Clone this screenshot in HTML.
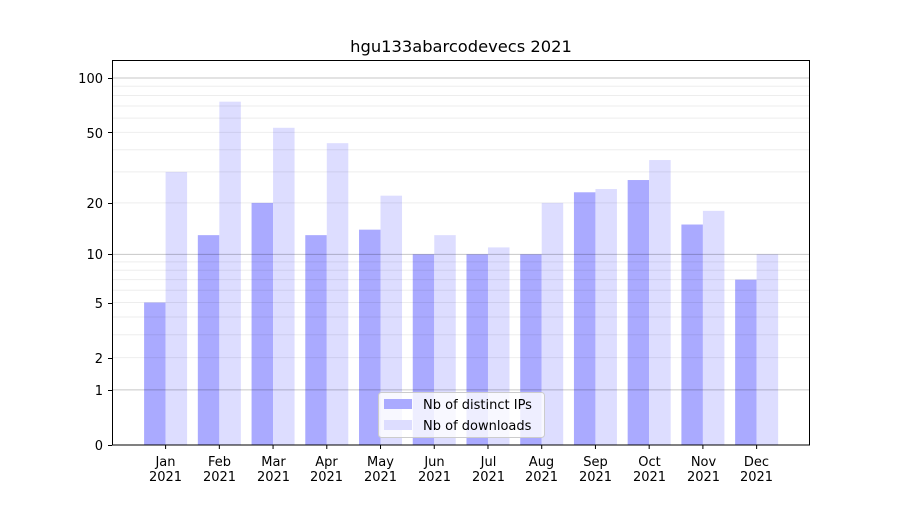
<!DOCTYPE html>
<html><head><meta charset="utf-8"><style>
body{margin:0;background:#fff;}
svg text{font-family:"DejaVu Sans","Liberation Sans",sans-serif;font-size:13px;fill:#000;}
</style></head><body>
<svg width="900" height="500" viewBox="0 0 900 500" xmlns="http://www.w3.org/2000/svg">
<rect width="900" height="500" fill="#fff"/>
<g id="bars"></g>
<g id="grid"></g>
<rect x="112.5" y="60.5" width="697" height="384.5" fill="none" stroke="#000" stroke-width="1"/>
<g id="ticks" stroke="#000" stroke-width="1"></g>
<text x="461" y="52" text-anchor="middle" style="font-size:16.3px">hgu133abarcodevecs 2021</text>
<g text-anchor="end">
<text x="103" y="83">100</text>
<text x="103" y="138">50</text>
<text x="103" y="208">20</text>
<text x="103" y="259">10</text>
<text x="103" y="308">5</text>
<text x="103" y="363">2</text>
<text x="103" y="395">1</text>
<text x="103" y="450">0</text>
</g>
<g text-anchor="middle">
<text x="165.5" y="466">Jan</text><text x="165.5" y="481">2021</text>
<text x="219.5" y="466">Feb</text><text x="219.5" y="481">2021</text>
<text x="273.5" y="466">Mar</text><text x="273.5" y="481">2021</text>
<text x="326.5" y="466">Apr</text><text x="326.5" y="481">2021</text>
<text x="380.5" y="466">May</text><text x="380.5" y="481">2021</text>
<text x="434.5" y="466">Jun</text><text x="434.5" y="481">2021</text>
<text x="488.5" y="466">Jul</text><text x="488.5" y="481">2021</text>
<text x="541.5" y="466">Aug</text><text x="541.5" y="481">2021</text>
<text x="595.5" y="466">Sep</text><text x="595.5" y="481">2021</text>
<text x="649.5" y="466">Oct</text><text x="649.5" y="481">2021</text>
<text x="703.5" y="466">Nov</text><text x="703.5" y="481">2021</text>
<text x="756.5" y="466">Dec</text><text x="756.5" y="481">2021</text>
</g>
<rect x="378.5" y="392.5" width="166" height="45" rx="3" fill="#fff" fill-opacity="0.8" stroke="#ccc"/>
<rect x="384" y="399" width="28" height="10" fill="#aaaaff"/>
<rect x="384" y="420" width="28" height="10" fill="#ddddff"/>
<text x="423" y="409">Nb of distinct IPs</text>
<text x="423" y="430">Nb of downloads</text>
</svg>
<script>
var Y=function(v){return 445-183.1*Math.log10(1+v);};
var ns="http://www.w3.org/2000/svg";
function el(p,t,a){var e=document.createElementNS(ns,t);for(var k in a)e.setAttribute(k,a[k]);document.getElementById(p).appendChild(e);}
var ip=[5,13,20,13,14,10,10,10,23,27,15,7],dl=[30,74,53,43.5,22,13,11,20,24,35,18,10];
for(var i=0;i<12;i++){var c=165.6+i*53.73;
el("bars","rect",{x:c-21.5,y:Y(ip[i]),width:21.5,height:445-Y(ip[i]),fill:"#aaaaff"});
el("bars","rect",{x:c,y:Y(dl[i]),width:21.5,height:445-Y(dl[i]),fill:"#ddddff"});
el("ticks","line",{x1:c,x2:c,y1:445,y2:449});}
var minors=[2,3,4,5,6,7,8,9,20,30,40,50,60,70,80,90];
minors.forEach(function(v){el("grid","line",{x1:113,x2:810,y1:Y(v),y2:Y(v),stroke:"#000","stroke-opacity":0.07});});
[1,10,100].forEach(function(v){el("grid","line",{x1:113,x2:810,y1:Y(v),y2:Y(v),stroke:"#000","stroke-opacity":0.22});});
[100,50,20,10,5,2,1,0].forEach(function(v){var y=Math.round(Y(v))+0.5;el("ticks","line",{x1:108,x2:112,y1:y,y2:y});});
</script>
</body></html>
